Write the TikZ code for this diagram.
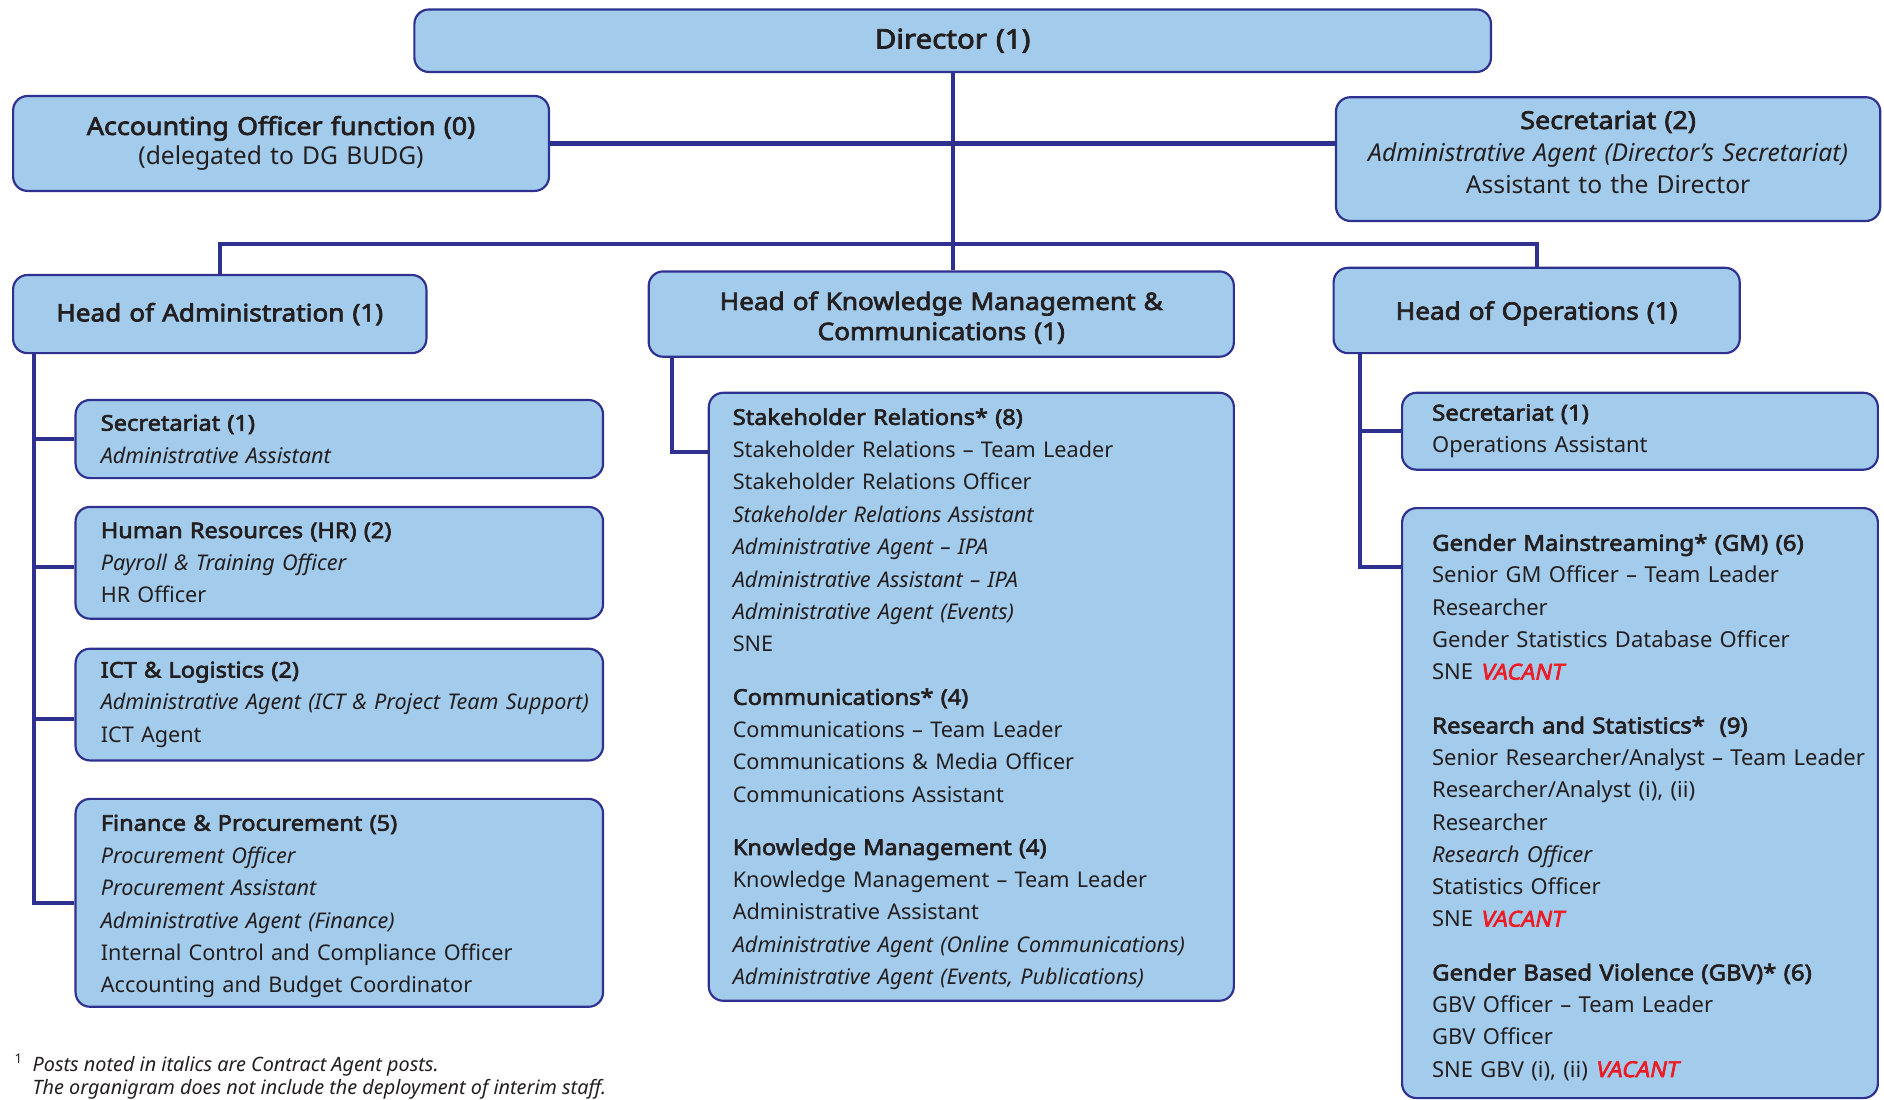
\documentclass[tikz,border=0pt]{standalone}
\usepackage{fontspec}
\setmainfont{Noto Sans}[BoldFont={Noto Sans}, BoldFeatures={FakeBold=3,FakeStretch=1.09}]
\newfontfamily\vacf[FakeBold=3,FakeSlant=0.2]{Noto Sans}
\usetikzlibrary{calc}
\definecolor{boxfill}{HTML}{A3CBEB}
\definecolor{navy}{HTML}{2E3190}
\definecolor{ink}{HTML}{231F20}
\definecolor{vred}{HTML}{ED1C24}
\newcommand{\vac}{{\vacf\color{vred}VACANT}}
\newcommand{\bodyf}{\fontsize{18}{27}\selectfont}
\newcommand{\widef}{\fontsize{18.3}{26.8}\selectfont}
\newcommand{\headf}{\bfseries\fontsize{20}{25}\selectfont}
\tikzset{
  unitbox/.style={draw=navy, line width=1.8pt, fill=boxfill, rounded corners=12pt,
    anchor=north west, inner sep=0pt, text=ink},
  link/.style={draw=navy, line width=3.4pt},
}
\begin{document}
\begin{tikzpicture}[x=1pt,y=-1pt]
\useasboundingbox (0,0) rectangle (1568,915);
% top level
\node[unitbox, minimum width=896pt, minimum height=52pt, text width=860pt, align=center, font=\bfseries\fontsize{22.5}{25}\selectfont] (dir) at (344,7) {Director (1)};
\node[unitbox, minimum width=446pt, minimum height=79pt, text width=420pt, align=center, font=\fontsize{20.5}{25}\selectfont] (acc) at (10,79)
  {\textbf{Accounting Officer function (0)}\\(delegated to DG BUDG)};
\node[unitbox, minimum width=453pt, minimum height=103pt, text width=440pt, align=center, font=\fontsize{20.5}{27}\selectfont] (sec2) at (1111,80)
  {\textbf{Secretariat (2)}\\\textit{Administrative Agent (Director’s Secretariat)}\\Assistant to the Director\par\vspace*{11pt}};
\node[unitbox, minimum width=344pt, minimum height=65pt, text width=320pt, align=center, font=\headf] (had) at (10,228) {Head of Administration (1)};
\node[unitbox, minimum width=487pt, minimum height=71pt, text width=460pt, align=center, font=\headf] (hkm) at (539,225) {Head of Knowledge Management \&\\Communications (1)\par\vspace*{-6pt}};
\node[unitbox, minimum width=338pt, minimum height=71pt, text width=320pt, align=center, font=\headf] (hop) at (1109,222) {Head of Operations (1)\par\vspace*{-6pt}};
% administration units
\node[unitbox, minimum width=439pt, minimum height=65pt, text width=397pt, align=left, font=\bodyf] (sa1) at (62,332)
  {\textbf{Secretariat (1)}\\\textit{Administrative Assistant}};
\node[unitbox, minimum width=439pt, minimum height=93pt, text width=397pt, align=left, font=\bodyf] (hr) at (62,421)
  {\textbf{Human Resources (HR) (2)}\\\textit{Payroll \& Training Officer}\\HR Officer};
\node[unitbox, minimum width=439pt, minimum height=93pt, text width=397pt, align=left, font=\bodyf] (ict) at (62,539)
  {\textbf{ICT \& Logistics (2)}\\\mbox{\textit{Administrative Agent (ICT \& Project Team Support)}}\\ICT Agent};
\node[unitbox, minimum width=439pt, minimum height=173pt, text width=397pt, align=left, font=\bodyf] (fin) at (62,664)
  {\textbf{Finance \& Procurement (5)}\\\textit{Procurement Officer}\\\textit{Procurement Assistant}\\\textit{Administrative Agent (Finance)}\\Internal Control and Compliance Officer\\Accounting and Budget Coordinator\par\vspace*{-6pt}};
% KM units
\node[unitbox, minimum width=437pt, minimum height=506pt, text width=397pt, align=left, font=\bodyf] (km) at (589,326)
  {\textbf{Stakeholder Relations* (8)}\\
   Stakeholder Relations – Team Leader\\
   Stakeholder Relations Officer\\
   \textit{Stakeholder Relations Assistant}\\
   \textit{Administrative Agent – IPA}\\
   \textit{Administrative Assistant – IPA}\\
   \textit{Administrative Agent (Events)}\\
   SNE\\[17pt]
   \textbf{Communications* (4)}\\
   Communications – Team Leader\\
   Communications \& Media Officer\\
   Communications Assistant\\[17pt]
   \textbf{Knowledge Management (4)}\\
   Knowledge Management – Team Leader\\
   Administrative Assistant\\
   \textit{Administrative Agent (Online Communications)}\\
   \textit{Administrative Agent (Events, Publications)}\par\vspace*{-4pt}};
% operations units
\node[unitbox, minimum width=396pt, minimum height=64pt, text width=346pt, align=left, font=\widef] (so1) at (1166,326)
  {\textbf{Secretariat (1)}\\Operations Assistant};
\node[unitbox, minimum width=396pt, minimum height=491pt, text width=346pt, align=left, font=\widef] (gm) at (1166,422)
  {\textbf{Gender Mainstreaming* (GM) (6)}\\
   Senior GM Officer – Team Leader\\
   Researcher\\
   Gender Statistics Database Officer\\
   SNE \vac\\[18pt]
   \textbf{Research and Statistics*\ \ (9)}\\
   \mbox{Senior Researcher/Analyst – Team Leader}\\
   Researcher/Analyst (i), (ii)\\
   Researcher\\
   \textit{Research Officer}\\
   Statistics Officer\\
   SNE \vac\\[18pt]
   \mbox{\textbf{Gender Based Violence (GBV)* (6)}}\\
   GBV Officer – Team Leader\\
   GBV Officer\\
   SNE GBV (i), (ii) \vac\par\vspace*{-7pt}};
% footnote
\node[anchor=north west, inner sep=0pt, text=ink, font=\fontsize{11}{13}\selectfont] (fnm) at (12,877) {1};
\node[anchor=north west, inner sep=0pt, text=ink, align=left, font=\itshape\fontsize{16.5}{19.5}\selectfont] (fnt) at (27,879)
  {Posts noted in italics are Contract Agent posts.\\The organigram does not include the deployment of interim staff.};
% connectors
\coordinate (bar) at (792,203);
\draw[link] (dir.south) -- (dir.south |- hkm.north);
\draw[link] (acc.east) -- (acc.east -| sec2.west);
\draw[link] (had.north) |- (bar) -| (hop.north);
\coordinate (lv) at ([xshift=18pt]had.south west);
\draw[link] (lv) |- (fin.west);
\draw[link] (lv |- sa1.west) -- (sa1.west);
\draw[link] ([yshift=-3.5pt]lv |- hr.west) -- ([yshift=-3.5pt]hr.west);
\draw[link] ([yshift=-12pt]lv |- ict.west) -- ([yshift=-12pt]ict.west);
\coordinate (cv) at ([xshift=20pt]hkm.south west);
\draw[link] (cv) |- ([yshift=-50pt]km.north west);
\coordinate (rv) at ([xshift=23pt]hop.south west);
\draw[link] (rv) |- ([yshift=-50pt]gm.north west);
\draw[link] (rv |- so1.west) -- (so1.west);
\end{tikzpicture}
\end{document}
